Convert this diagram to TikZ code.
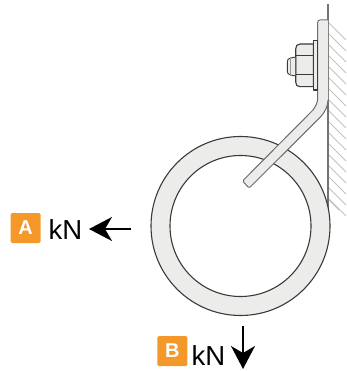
\documentclass[tikz,border=0pt]{standalone}
\usepackage{fontspec}
\setmainfont{Liberation Sans}
\usetikzlibrary{arrows.meta}
\definecolor{badge}{HTML}{F5982A}
\definecolor{partfill}{HTML}{ECECEA}
\definecolor{partline}{HTML}{3A3A3A}
\tikzset{
  badgebox/.style={fill=badge,rounded corners=1.5pt,minimum size=30pt,inner sep=0pt,text=white,font=\fontsize{20}{22}\selectfont\bfseries},
  unitlabel/.style={anchor=base west,inner sep=0pt,font=\fontsize{27.5}{29}\selectfont},
  force/.style={line width=1.8pt,-{Stealth[length=23pt,width=24pt,inset=7pt]}},
  part/.style={fill=partfill,draw=partline,line width=1.1pt,line join=round},
  hatchline/.style={draw=black!24,line width=0.8pt},
}
\begin{document}
\begin{tikzpicture}[x=1pt,y=-1pt]
\useasboundingbox (0,0) rectangle (346,371);
% hatching
\foreach \y in {22,33,...,198}{
  \pgfmathsetmacro{\yy}{\y+18}
  \draw[hatchline] (328,\y) -- (346,\yy);
}
\draw[hatchline] (328,199) -- (339,210);
% wall
\draw[draw=black!55,line width=1.6pt] (328,4) -- (328,210);
% ring
\path[part,even odd rule] (240.5,226) circle[radius=89.5] (240.5,226) circle[radius=70.5];
% bracket
\path[fill=partfill] (328,20) -- (328,100) .. controls (328,106) and (325,112) .. (320.7,116.7) -- (249.3,187.7) -- (243.3,180.7) -- (313,110) .. controls (316,106) and (317.7,102) .. (317.7,98) -- (317.7,22) -- cycle;
\draw[draw=partline!75,line width=1pt,line join=round] (328,20) -- (320,20) .. controls (318.5,20) and (317.7,21) .. (317.7,22.5) -- (317.7,98) .. controls (317.7,102) and (316,106) .. (313,110) -- (243.5,180) .. controls (242.8,180.8) and (242.8,181.4) .. (243.5,182) -- (248,187) .. controls (248.8,187.8) and (249.5,187.8) .. (250.2,187) -- (320.7,116.7) .. controls (325,112) and (328,106) .. (328,100);
% washer
\path[part] (313.3,40.7) rectangle (317.7,90);
% nut
\path[part] (313.3,44) -- (300,44) .. controls (297,44) and (295.7,46) .. (295.7,49) -- (295.7,82) .. controls (295.7,85) and (297,86.7) .. (300,86.7) -- (313.3,86.7) -- cycle;
\draw[draw=partline,line width=1pt] (295.7,56) -- (313.3,56) (295.7,75) -- (313.3,75);
% bolt end
\path[part,line width=0.9pt] (295.7,57) -- (290.5,58) .. controls (288,58.5) and (287.3,60) .. (287.3,62) -- (287.3,71) .. controls (287.3,73) and (288,74.5) .. (290.5,75) -- (295.7,76) -- cycle;
\draw[draw=black!40,line width=0.7pt] (290.5,58) -- (290.5,75);
% labels
\node[badgebox] (a) at (25.7,228) {A};
\node[unitlabel] (akn) at (48.5,239) {kN};
\coordinate (afrom) at (131,229);
\coordinate (ato) at (89,229);
\draw[force] (afrom) -- (ato);
\node[badgebox] (b) at (172.3,351) {B};
\node[unitlabel] (bkn) at (191.5,365) {kN};
\coordinate (bfrom) at (243,326);
\coordinate (bto) at (243,369);
\draw[force] (bfrom) -- (bto);
\end{tikzpicture}
\end{document}
